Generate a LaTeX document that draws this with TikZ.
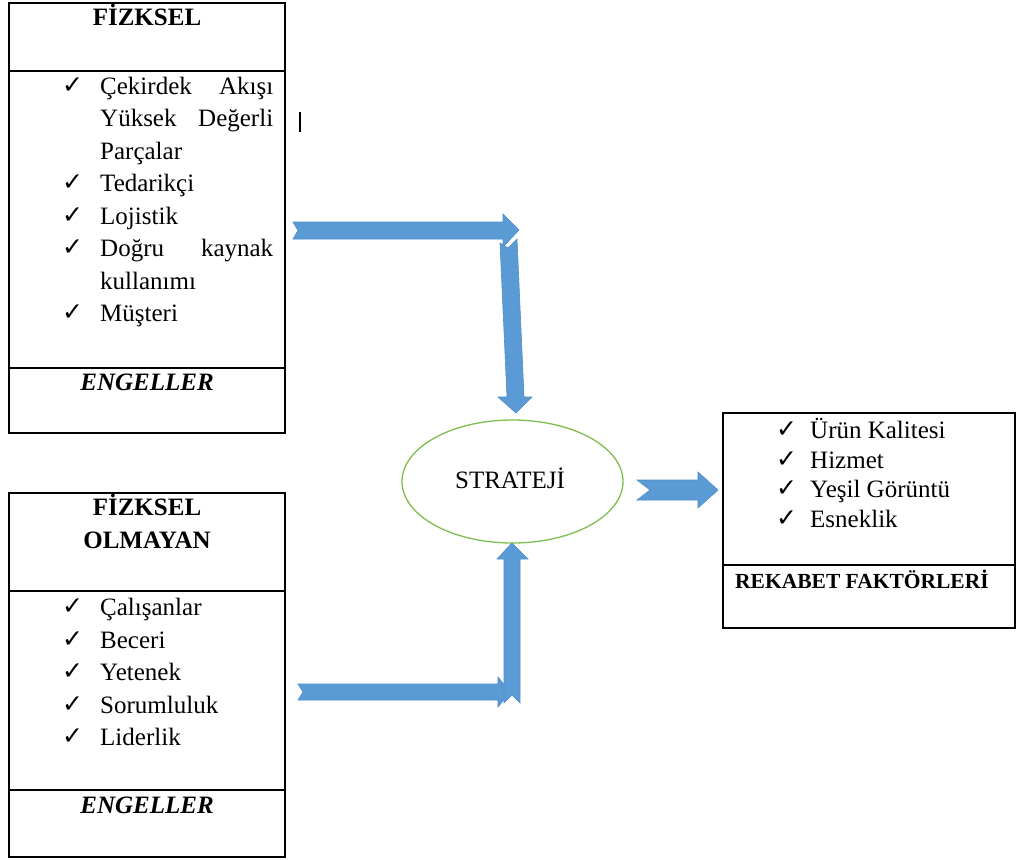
\documentclass[tikz,border=0pt]{standalone}
\usepackage{fontspec}
\setmainfont{Liberation Serif}
\newfontfamily\symfont{DejaVu Sans}
\usetikzlibrary{shapes.geometric}
\definecolor{arrowblue}{HTML}{5B9BD5}
\definecolor{arrowedge}{HTML}{4F8CC9}
\definecolor{ellgreen}{HTML}{7CBF4E}
\begin{document}
\begin{tikzpicture}[x=1pt,y=-1pt,
  panel/.style={draw=black, line width=1.3pt, inner sep=0pt, outer sep=0pt, anchor=north west},
  divider/.style={draw=black, line width=1.1pt},
  txt/.style={inner sep=0pt, anchor=base west, font=\fontsize{25}{30}\selectfont},
  ttl/.style={inner sep=0pt, anchor=base, font=\fontsize{25}{30}\selectfont\bfseries},
  ttlit/.style={inner sep=0pt, anchor=base, font=\fontsize{25}{30}\selectfont\bfseries\itshape},
  chk/.style={inner sep=0pt, anchor=base west, font=\symfont\fontsize{25}{30}\selectfont},
  blockarrow/.style={fill=arrowblue, draw=arrowedge, line width=0.6pt, line join=miter}]
\useasboundingbox (0,0) rectangle (1016,859);

% ---------- Box 1: FIZKSEL ----------
\node[panel, minimum width=276pt, minimum height=430pt] (box1) at (9,3) {};
\draw[divider] (9,71) -- (285,71);
\draw[divider] (9,368) -- (285,368);
\node[ttl] (t1) at (147,26) {FİZKSEL};
\node[chk] (c11) at (62,93) {✓};
\node[txt] (l11) at (100,94) {\hbox to 173pt{Çekirdek\hfill Akışı}};
\node[txt] (l12) at (100,126.5) {\hbox to 173pt{Yüksek\hfill Değerli}};
\node[txt] (l13) at (100,159) {Parçalar};
\node[chk] (c14) at (62,190.5) {✓};
\node[txt] (l14) at (100,191.5) {Tedarikçi};
\node[chk] (c15) at (62,223) {✓};
\node[txt] (l15) at (100,224) {Lojistik};
\node[chk] (c16) at (62,255.5) {✓};
\node[txt] (l16) at (100,256.5) {\hbox to 173pt{Doğru\hfill kaynak}};
\node[txt] (l17) at (100,289) {kullanımı};
\node[chk] (c18) at (62,320.5) {✓};
\node[txt] (l18) at (100,321.5) {Müşteri};
\node[ttlit] (e1) at (147,390) {ENGELLER};
\draw[line width=1.3pt] (300,112) -- (300,132);

% ---------- Box 2: FIZKSEL OLMAYAN ----------
\node[panel, minimum width=276pt, minimum height=364pt] (box2) at (9,493) {};
\draw[divider] (9,591) -- (285,591);
\draw[divider] (9,790) -- (285,790);
\node[ttl] (t2a) at (147,515) {FİZKSEL};
\node[ttl] (t2b) at (147,548) {OLMAYAN};
\node[chk] (c21) at (62,614) {✓};
\node[txt] (l21) at (100,615) {Çalışanlar};
\node[chk] (c22) at (62,647) {✓};
\node[txt] (l22) at (100,648) {Beceri};
\node[chk] (c23) at (62,679.5) {✓};
\node[txt] (l23) at (100,680.5) {Yetenek};
\node[chk] (c24) at (62,712) {✓};
\node[txt] (l24) at (100,713) {Sorumluluk};
\node[chk] (c25) at (62,744.5) {✓};
\node[txt] (l25) at (100,745.5) {Liderlik};
\node[ttlit] (e2) at (147,813) {ENGELLER};

% ---------- Strategy ellipse ----------
\node[ellipse, draw=ellgreen, line width=1.3pt, minimum width=221pt, minimum height=123pt, inner sep=0pt] (strat) at (512.5,481.5) {};
\node[inner sep=0pt, anchor=base, font=\fontsize{25}{30}\selectfont] (stxt) at (510,488) {STRATEJİ};

% ---------- Box 3: REKABET FAKTORLERI ----------
\node[panel, minimum width=292pt, minimum height=215pt] (box3) at (723,413) {};
\draw[divider] (723,565) -- (1015,565);
\node[chk] (c31) at (776,437) {✓};
\node[txt] (l31) at (810,438) {Ürün Kalitesi};
\node[chk] (c32) at (776,467) {✓};
\node[txt] (l32) at (810,468) {Hizmet};
\node[chk] (c33) at (776,496) {✓};
\node[txt] (l33) at (810,497) {Yeşil Görüntü};
\node[chk] (c34) at (776,526) {✓};
\node[txt] (l34) at (810,527) {Esneklik};
\node[inner sep=0pt, anchor=base west, font=\fontsize{21.5}{26}\selectfont\bfseries] (r3) at (735,588) {REKABET FAKTÖRLERİ};

% ---------- Block arrows ----------
\filldraw[blockarrow] (293,222) -- (503,222) -- (503,214) -- (519,230) -- (503,247) -- (503,239) -- (293,239) -- (298,230.5) -- cycle;
\filldraw[blockarrow] (500,243) -- (508,248) -- (517,239) -- (524,397) -- (532,397) -- (516,413) -- (498,397) -- (507,397) -- cycle;
\filldraw[blockarrow] (298,684) -- (498,684) -- (498,677) -- (510,692) -- (498,707) -- (498,700) -- (298,700) -- (303,692) -- cycle;
\filldraw[blockarrow] (504,703) -- (504,559) -- (497,559) -- (512,543) -- (528,559) -- (520,559) -- (520,703) -- (512,695) -- cycle;
\filldraw[blockarrow] (637,480) -- (698,480) -- (698,472) -- (718,490) -- (698,508) -- (698,500) -- (637,500) -- (650,490) -- cycle;
\end{tikzpicture}
\end{document}
